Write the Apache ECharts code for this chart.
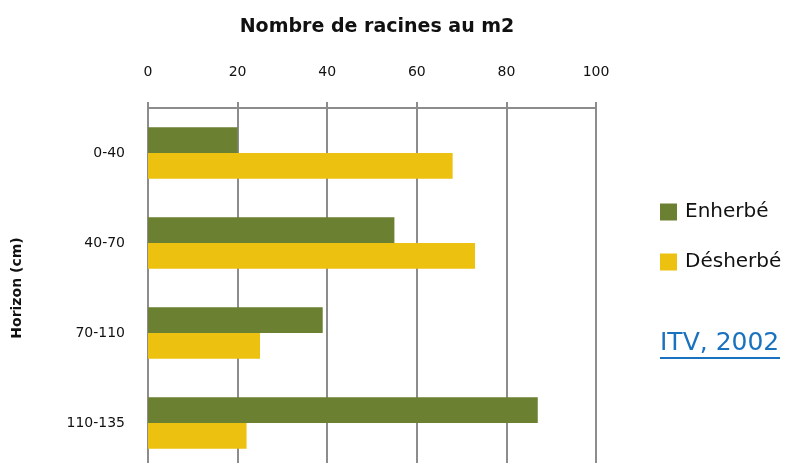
<!DOCTYPE html>
<html>
<head>
<meta charset="utf-8">
<script src="https://cdn.jsdelivr.net/npm/echarts@6/dist/echarts.min.js"></script>
<style>
  html, body { margin: 0; padding: 0; background: #fff; }
  #chart { width: 796px; height: 463px; }
</style>
</head>
<body>
<div id="chart"></div>
<script>
// horizons (cm), from top to bottom
var categories = ['0-40', '40-70', '70-110', '110-135']
var enherbe = [20, 55, 39, 87]
var desherbe = [68, 73, 25, 22]
var seriesNames = ['Enherbé', 'Désherbé']
var colors = ['#6b8030', '#edc10f']

var chart = echarts.init(document.getElementById('chart'))
var fontFam = '"DejaVu Sans", sans-serif'

var option = {
  animation: false,
  color: colors,
  title: {
    text: 'Nombre de racines au m2',
    left: 372,
    top: 13,
    textAlign: 'center',
    textStyle: { fontFamily: fontFam, fontSize: 19, fontWeight: 'bold', color: '#111' }
  },
  legend: {
    orient: 'vertical',
    left: 655,
    top: 197,
    icon: 'rect',
    itemWidth: 17,
    itemHeight: 17,
    itemGap: 30,
    data: seriesNames,
    textStyle: { fontFamily: fontFam, fontSize: 20, color: '#111', padding: [0, 0, 0, 3] }
  },
  grid: {
    left: 148,
    width: 448,
    top: 108,
    height: 360,
    outerBoundsMode: 'none',
    containLabel: false
  },
  xAxis: {
    type: 'value',
    position: 'top',
    min: 0,
    max: 100,
    interval: 20,
    axisLine: { show: true, lineStyle: { color: '#8c8c8c', width: 2 } },
    axisTick: { show: true, length: 6, lineStyle: { color: '#8c8c8c', width: 2 } },
    axisLabel: { margin: 29, fontFamily: fontFam, fontSize: 14, color: '#111' },
    splitLine: { show: true, lineStyle: { color: '#8c8c8c', width: 2 } }
  },
  yAxis: {
    type: 'category',
    inverse: true,
    data: categories,
    name: 'Horizon (cm)',
    nameLocation: 'middle',
    nameRotate: 90,
    nameGap: 124,
    nameTextStyle: { fontFamily: fontFam, fontSize: 14, fontWeight: 'bold', color: '#111' },
    axisLine: { show: true, lineStyle: { color: '#8c8c8c', width: 2 } },
    axisTick: { show: false },
    axisLabel: { margin: 23, fontFamily: fontFam, fontSize: 14, color: '#111' }
  },
  graphic: [
    {
      type: 'text',
      left: 660,
      top: 331,
      style: { text: 'ITV, 2002', fontFamily: fontFam, fontSize: 25, fill: '#1a72bf' }
    },
    {
      type: 'rect',
      left: 660,
      top: 357,
      shape: { width: 120, height: 2 },
      style: { fill: '#1a72bf' }
    }
  ],
  series: [
    {
      name: seriesNames[0],
      type: 'bar',
      data: enherbe,
      barGap: '0%',
      barCategoryGap: '43%'
    },
    {
      name: seriesNames[1],
      type: 'bar',
      data: desherbe,
      barGap: '0%',
      barCategoryGap: '43%'
    }
  ]
}

chart.setOption(option)
</script>
</body>
</html>
